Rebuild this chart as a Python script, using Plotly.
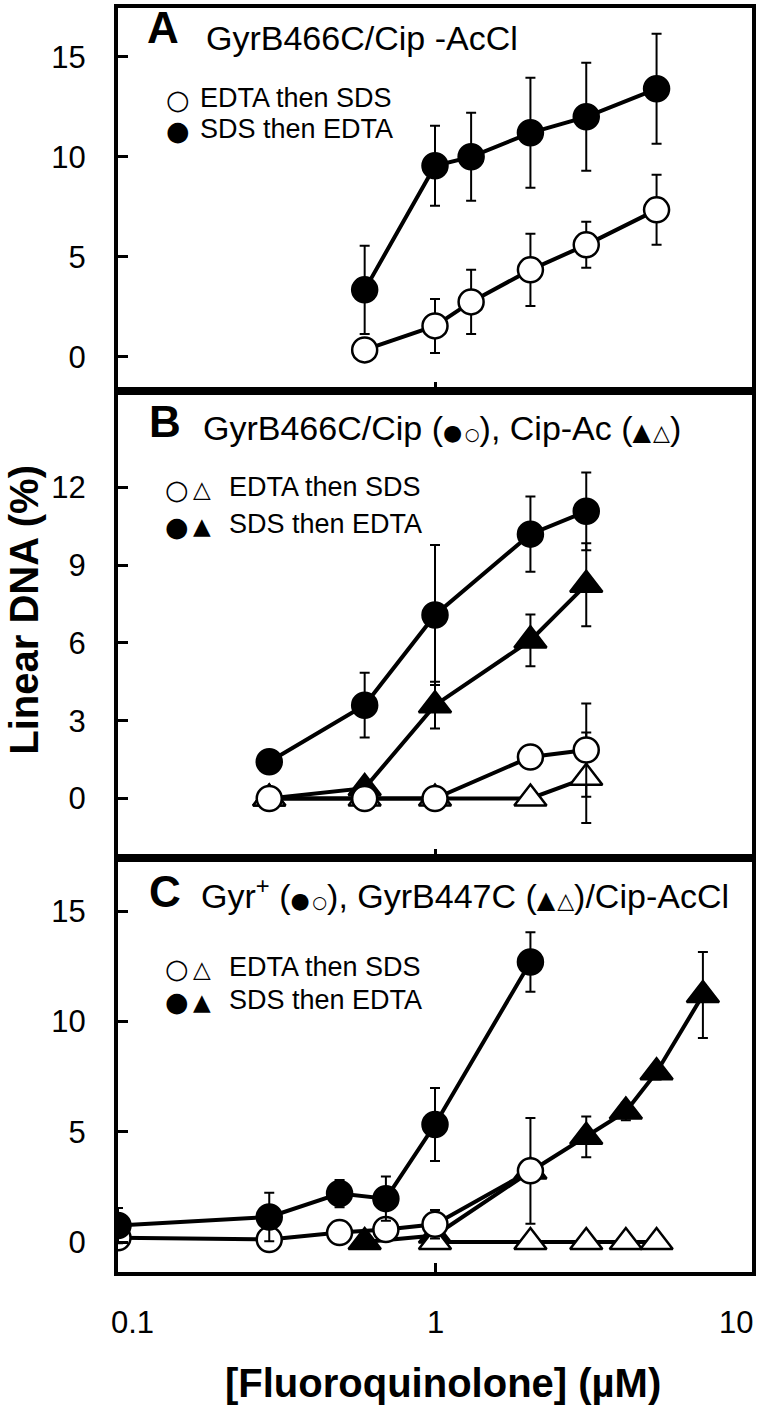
import plotly.graph_objects as go

# ---------------- data ----------------
# Panel A : GyrB466C / Cip-AcCl
conc_A = [0.6, 1.0, 1.3, 2.0, 3.0, 5.0]
A_sds_edta = [3.35, 9.55, 10.0, 11.2, 12.0, 13.4]
A_sds_edta_err = [2.2, 2.0, 2.2, 2.75, 2.7, 2.75]
A_edta_sds = [0.35, 1.55, 2.75, 4.35, 5.6, 7.35]
A_edta_sds_err = [0.0, 1.35, 1.6, 1.8, 1.15, 1.75]

# Panel B : GyrB466C / Cip (circles), Cip-Ac (triangles)
conc_B = [0.3, 0.6, 1.0, 2.0, 3.0]
B_cip_sds_edta = [1.42, 3.6, 7.08, 10.2, 11.08]
B_cip_sds_edta_err = [0.0, 1.25, 2.7, 1.45, 1.5]
B_cip_edta_sds = [0.0, 0.0, 0.0, 1.6, 1.87]
B_cip_edta_sds_err = [0.0, 0.0, 0.0, 0.0, 1.8]
B_ac_sds_edta = [0.0, 0.4, 3.6, 6.1, 8.25]
B_ac_sds_edta_err = [0.0, 0.3, 0.9, 1.0, 1.6]
B_ac_edta_sds = [0.0, 0.0, 0.0, 0.0, 0.8]
B_ac_edta_sds_err = [0.0, 0.0, 0.0, 0.0, 1.75]

# Panel C : Gyr+ (circles), GyrB447C (triangles) / Cip-AcCl
conc_C_gyr = [0.1, 0.3, 0.5, 0.7, 1.0, 2.0]
C_gyr_sds_edta = [0.75, 1.14, 2.2, 1.97, 5.33, 12.7]
C_gyr_sds_edta_err = [0.8, 1.1, 0.62, 1.0, 1.65, 1.35]
C_gyr_edta_sds = [0.2, 0.12, 0.43, 0.57, 0.81, 3.23]
C_gyr_edta_sds_err = [0.0, 0.0, 0.0, 0.0, 0.65, 2.4]
conc_C_447_sds = [0.6, 1.0, 2.0, 3.0, 4.0, 5.0, 7.0]
C_447_sds_edta = [0.0, 0.3, 3.2, 4.77, 5.92, 7.7, 11.2]
C_447_sds_edta_err = [0.0, 0.0, 0.0, 0.92, 0.4, 0.33, 1.95]
conc_C_447_edta = [1.0, 2.0, 3.0, 4.0, 5.0]
C_447_edta_sds = [0.0, 0.0, 0.0, 0.0, 0.0]

yticks_A = [0, 5, 10, 15]
yticks_B = [0, 3, 6, 9, 12]
yticks_C = [0, 5, 10, 15]
xtick_labels = ["0.1", "1", "10"]
xtick_vals = [0.1, 1, 10]

FONT = "Liberation Sans, Arial, DejaVu Sans, sans-serif"
SYMFONT = "DejaVu Sans"

W, H = 760, 1420
PX_L, PX_R, PY_T, PY_B = 118, 756, 4, 1272


def px(x):
    return (x - PX_L) / (PX_R - PX_L)


def py(y):
    return (PY_B - y) / (PY_B - PY_T)


fig = go.Figure()


def add(x, y, err, symbol, filled, xa, ya):
    fig.add_trace(go.Scatter(
        x=x, y=y, xaxis=xa, yaxis=ya, mode="lines+markers",
        line=dict(color="black", width=4),
        marker=dict(symbol=symbol, size=25 if symbol == "circle" else 28,
                    color="black" if filled else "white",
                    line=dict(color="black", width=2.5)),
        error_y=dict(type="data", array=err, visible=True,
                     color="black", thickness=2, width=5) if err is not None else None,
        showlegend=False, hoverinfo="skip"))


# Panel A
add(conc_A, A_edta_sds, A_edta_sds_err, "circle", False, "x", "y")
add(conc_A, A_sds_edta, A_sds_edta_err, "circle", True, "x", "y")
# Panel B
add(conc_B, B_ac_sds_edta, B_ac_sds_edta_err, "triangle-up", True, "x2", "y2")
add(conc_B, B_ac_edta_sds, B_ac_edta_sds_err, "triangle-up", False, "x2", "y2")
add(conc_B, B_cip_sds_edta, B_cip_sds_edta_err, "circle", True, "x2", "y2")
add(conc_B, B_cip_edta_sds, B_cip_edta_sds_err, "circle", False, "x2", "y2")
# Panel C
add(conc_C_447_sds, C_447_sds_edta, C_447_sds_edta_err, "triangle-up", True, "x3", "y3")
add(conc_C_447_edta, C_447_edta_sds, None, "triangle-up", False, "x3", "y3")
add(conc_C_gyr, C_gyr_edta_sds, C_gyr_edta_sds_err, "circle", False, "x3", "y3")
add(conc_C_gyr, C_gyr_sds_edta, C_gyr_sds_edta_err, "circle", True, "x3", "y3")

# panel boundaries in pixels: 388 (A|B), 857 (B|C)
dA = [py(388), 1.0]
dB = [py(857), py(388)]
dC = [0.0, py(857)]

xcommon = dict(type="log", range=[-1, 1], tickvals=xtick_vals, ticks="inside",
               ticklen=9, tickwidth=3, tickcolor="black", showticklabels=False,
               showline=True, linewidth=4, linecolor="black", mirror=True,
               showgrid=False, zeroline=False)
ycommon = dict(ticks="inside", ticklen=10, tickwidth=3, tickcolor="black",
               showline=True, linewidth=4, linecolor="black", mirror=True,
               showgrid=False, zeroline=False, ticklabelstandoff=22,
               tickfont=dict(family=FONT, size=31, color="black"))


def yrange(top, bottom, zero, ppu):
    return [(zero - bottom) / ppu, (zero - top) / ppu]


fig.update_layout(
    width=W, height=H, paper_bgcolor="white", plot_bgcolor="white",
    margin=dict(l=PX_L, r=W - PX_R, t=PY_T, b=H - PY_B),
    xaxis=dict(anchor="y", **xcommon),
    xaxis2=dict(anchor="y2", **xcommon),
    xaxis3=dict(anchor="y3", **xcommon),
    yaxis=dict(anchor="x", domain=dA, range=yrange(PY_T, 388, 354, 20.07),
               tickvals=yticks_A, **ycommon),
    yaxis2=dict(anchor="x2", domain=dB, range=yrange(388, 857, 797, 26.0),
                tickvals=yticks_B, **ycommon),
    yaxis3=dict(anchor="x3", domain=dC, range=yrange(857, PY_B, 1242, 22.13),
                tickvals=yticks_C, **ycommon),
)

ann = []


def text(t, x, y, size, anchor="left", bold=False, angle=0, family=FONT):
    ann.append(dict(text=f"<b>{t}</b>" if bold else t, x=px(x), y=py(y),
                    xref="paper", yref="paper", xanchor=anchor, yanchor="middle",
                    showarrow=False, textangle=angle,
                    font=dict(family=family, size=size, color="black")))


def sym(t, x, y, size):
    text(t, x, y, size, anchor="center", family=SYMFONT)


def ts(t, size):
    return f'<span style="font-family:{SYMFONT};font-size:{size}px">{t}</span>'


CIR = 27
TRI = 23
title_circles = ts("●", 22) + ts(" ", 8) + ts("○", 17)
title_triangles = ts("▲", 24) + ts(" ", 6) + ts("△", 22)

# Panel A
text("A", 145, 24, 44, bold=True)
text("GyrB466C/Cip -AcCl", 205, 34, 34)
sym("○", 178, 96, CIR)
sym("●", 178, 127, CIR)
text("EDTA then SDS", 199, 94, 27)
text("SDS then EDTA", 199, 125, 27)
# Panel B
text("B", 147, 419, 44, bold=True)
text(f"GyrB466C/Cip ({title_circles}), Cip-Ac ({title_triangles})", 202, 425, 34)
sym("○", 177, 487, CIR)
sym("●", 177, 524, CIR)
sym("△", 203, 487, TRI)
sym("▲", 203, 524, TRI)
text("EDTA then SDS", 228, 485, 27)
text("SDS then EDTA", 228, 522, 27)
# Panel C
text("C", 147, 890, 44, bold=True)
text(f"Gyr<sup>+</sup> ({title_circles}), GyrB447C ({title_triangles})/Cip-AcCl", 200, 892, 34)
sym("○", 177, 968, CIR)
sym("●", 177, 1001, CIR)
sym("△", 203, 968, TRI)
sym("▲", 203, 1001, TRI)
text("EDTA then SDS", 228, 966, 27)
text("SDS then EDTA", 228, 999, 27)
# x tick labels
for lab, xc in zip(xtick_labels, [133, 438, 740]):
    text(lab, xc, 1323, 31, anchor="center")
# axis titles
text("[Fluoroquinolone] (µM)", 445, 1383, 40, anchor="center", bold=True)
text("Linear DNA (%)", 23, 608, 40, anchor="center", bold=True, angle=-90)

fig.update_layout(annotations=ann)
fig.write_html("out.html", config={"displayModeBar": False},
               post_script="document.body.style.margin='0px';document.body.style.overflow='hidden';")
